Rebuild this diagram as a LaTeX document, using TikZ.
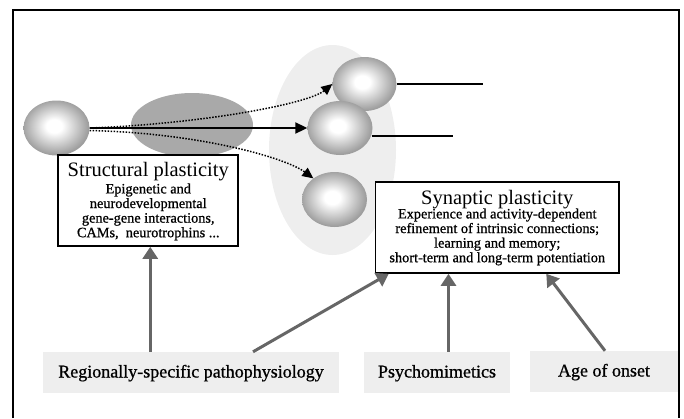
\documentclass[tikz,border=0pt]{standalone}
\usepackage{fontspec}
\setmainfont{Liberation Serif}
\newfontfamily\medserif[FakeBold=0.8]{Liberation Serif}
\usetikzlibrary{shapes.geometric,arrows.meta}
\definecolor{sphgray}{HTML}{9E9E9E}
\definecolor{lightfill}{HTML}{EEEEEE}
\definecolor{darkfill}{HTML}{A9A9A9}
\definecolor{arrowgray}{HTML}{666666}
\pgfdeclareradialshading{sphshade}{\pgfpoint{-2bp}{2bp}}{color(0bp)=(white); color(6bp)=(white); color(25bp)=(sphgray); color(50bp)=(sphgray)}
\begin{document}
\begin{tikzpicture}[x=1pt,y=-1pt,
  sphere/.style={ellipse, inner sep=0pt, shade, shading=sphshade},
  plainbox/.style={draw, line width=1.6pt, fill=white, inner sep=0pt},
  titletext/.style={inner sep=0pt, anchor=base},
  bodytext/.style={inner sep=0pt, anchor=north, align=center, font=\medserif\fontsize{14.3}{14.6}\selectfont},
  labelbox/.style={fill=lightfill, inner sep=0pt, minimum height=41pt, text height=13pt, text depth=3pt, font=\medserif\fontsize{18}{20}\selectfont},
  garrow/.style={draw=arrowgray, line width=3pt, -{Triangle[length=12pt,width=15pt]}, arrowgray},
  blackarrow/.style={line width=2pt, -{Triangle[length=12pt,width=11pt]}},
  dotarrow/.style={line width=1.5pt, dash pattern=on 1.5pt off 1.5pt, -{Triangle[length=11pt,width=10pt]}},
  stubline/.style={line width=1.6pt}
]
\useasboundingbox (0,0) rectangle (684,418);
% frame
\draw[line width=1.2pt] (13,418) -- (13,10) -- (679,10) -- (679,418);
% background ellipses
\fill[lightfill] (332.5,150) ellipse [x radius=63.5, y radius=105];
\fill[darkfill] (192,125) ellipse [x radius=61, y radius=32];
% spheres
\node[sphere, minimum width=66pt, minimum height=55pt] (s0) at (56.5,128) {};
\node[sphere, minimum width=64pt, minimum height=54pt] (s1) at (364.5,84) {};
\node[sphere, minimum width=65pt, minimum height=54pt] (s2) at (340,128) {};
\node[sphere, minimum width=65pt, minimum height=55pt] (s3) at (334.5,199.5) {};
% connectors between spheres
\draw[blackarrow] (s0.east) -- (s2.west);
\draw[dotarrow] (s0.east) .. controls (200,124) and (308,104) .. (s1.west);
\draw[dotarrow] ([yshift=-2.5pt]s0.east) .. controls (200,133) and (286,158) .. (s3.135);
\coordinate (e1) at (483,84);
\coordinate (e2) at (453,136);
\draw[stubline] (s1.east) -- (e1);
\draw[stubline] (s2.-13 |- e2) -- (e2);
% structural plasticity box
\node[plainbox, minimum width=180pt, minimum height=91pt] (sbox) at (148.25,200.5) {};
\node[titletext, font=\fontsize{20.5}{22}\selectfont] (stitle) at (148.25,176.7) {Structural plasticity};
\node[bodytext] (sbody) at (148.25,183.3) {Epigenetic and\\neurodevelopmental\\gene-gene interactions,\\CAMs,\ \ neurotrophins ...};
% synaptic plasticity box
\node[plainbox, minimum width=243.5pt, minimum height=91pt] (ybox) at (497.25,227.5) {};
\node[titletext, font=\fontsize{20.5}{22}\selectfont] (ytitle) at (497.25,204) {Synaptic plasticity};
\node[bodytext] (ybody) at (497.25,208.3) {Experience and activity-dependent\\refinement of intrinsic connections;\\learning and memory;\\short-term and long-term potentiation};
% bottom label boxes
\node[labelbox, minimum width=296pt] (reg) at (191,372.5) {Regionally-specific pathophysiology};
\node[labelbox, minimum width=146pt] (psy) at (437,372.5) {Psychomimetics};
\node[labelbox, minimum width=148pt] (age) at (604,371.5) {Age of onset};
% grey arrows
\draw[garrow] ([xshift=2pt]sbox.south |- reg.north) -- ([xshift=2pt]sbox.south);
\draw[garrow] ([xshift=62pt]reg.north) -- ([xshift=14pt]ybox.south west);
\draw[garrow] ([xshift=11.5pt]psy.north) -- ([xshift=11.5pt]psy.north |- ybox.south);
\draw[garrow] ([xshift=1pt]age.north) -- ([xshift=49pt]ybox.south);
\end{tikzpicture}
\end{document}
